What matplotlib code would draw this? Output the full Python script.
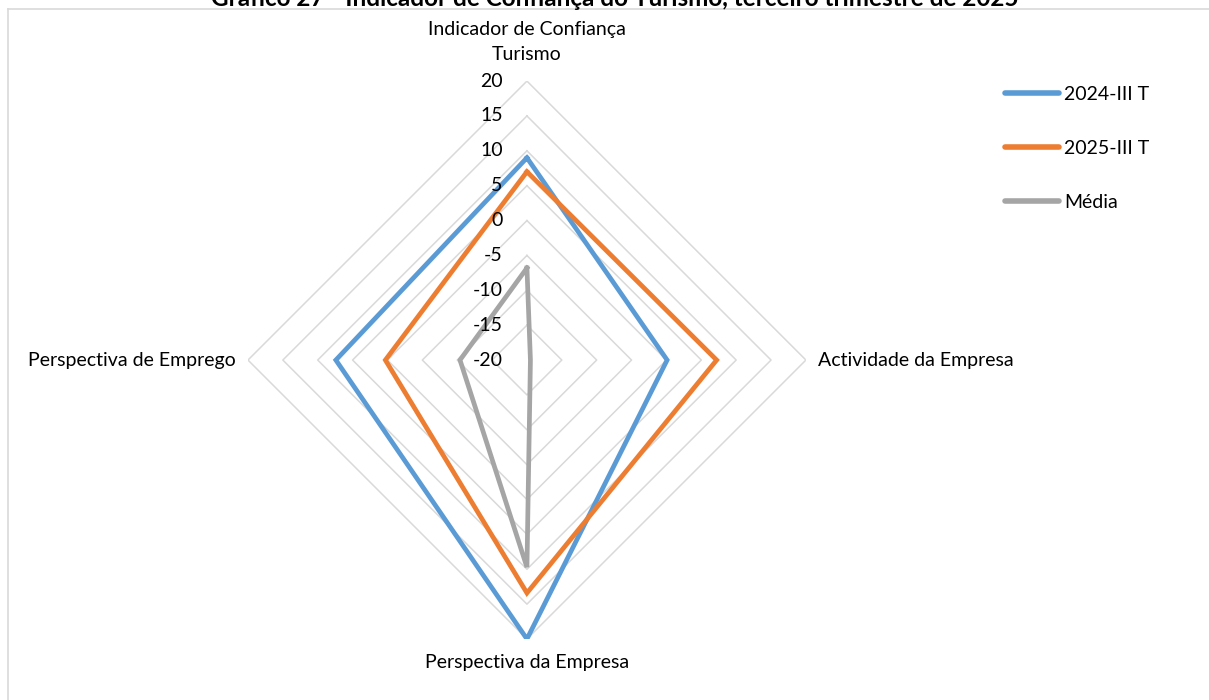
import numpy as np
import matplotlib.pyplot as plt
from matplotlib.lines import Line2D

plt.rcParams['font.family'] = ['Lato', 'DejaVu Sans']

# Data (clockwise from top)
categories = ['Indicador de Confiança\nTurismo', 'Actividade da Empresa',
              'Perspectiva da Empresa', 'Perspectiva de Emprego']
serie_2024 = [9.0, 0.1, 20.0, 7.4]
serie_2025 = [7.0, 7.2, 13.4, 0.3]
media = [-6.8, -19.5, 9.7, -10.4]
series_names = ['2024-III T', '2025-III T', 'Média']
levels = [-20, -15, -10, -5, 0, 5, 10, 15, 20]

title = 'Gráfico 27 - Indicador de Confiança do Turismo, terceiro trimestre de 2025'

mycolors = ['#5B9BD5', '#ED7D31', '#A5A5A5']
grid_color = '#D9D9D9'

fig = plt.figure(figsize=(12.09, 7.0), dpi=100)
ax = fig.add_axes([0.2051, 0.0871, 0.4615, 0.7971], projection='polar')
ax.set_theta_offset(np.pi / 2)
ax.set_theta_direction(-1)
ax.set_ylim(-20, 20)
ax.grid(False)
ax.spines['polar'].set_visible(False)
ax.set_xticks([])
ax.set_yticks([])
ax.patch.set_alpha(0)

angles = np.linspace(0, 2 * np.pi, len(categories), endpoint=False)
closed = np.append(angles, angles[0])

# diamond grid rings
for lv in levels:
    ax.plot(closed, [lv] * len(closed), color=grid_color, lw=1.1, zorder=1)

# series
for vals, name, col in zip([serie_2024, serie_2025, media], series_names, mycolors):
    ax.plot(closed, vals + vals[:1], color=col, lw=3.4, label=name,
            solid_joinstyle='miter', zorder=3)

# radial tick labels, left of the top axis
for lv in levels:
    ax.annotate(str(lv), xy=(0, lv), xytext=(-17.5, 0), textcoords='offset points',
                ha='right', va='center', fontsize=14, color='#000000', zorder=5)

# category labels
ax.annotate(categories[0], xy=(angles[0], 20), xytext=(0, 13), textcoords='offset points',
            ha='center', va='bottom', fontsize=14, linespacing=1.6)
ax.annotate(categories[1], xy=(angles[1], 20), xytext=(8.5, 0), textcoords='offset points',
            ha='left', va='center', fontsize=14)
ax.annotate(categories[2], xy=(angles[2], 20), xytext=(0, -11), textcoords='offset points',
            ha='center', va='top', fontsize=14)
ax.annotate(categories[3], xy=(angles[3], 20), xytext=(-8.5, 0), textcoords='offset points',
            ha='right', va='center', fontsize=14)

# legend
handles = [Line2D([0], [0], color=c, lw=4, solid_capstyle='round') for c in mycolors]
fig.legend(handles, series_names, loc='upper left', bbox_to_anchor=(0.8245, 0.888),
           frameon=False, fontsize=14, handlelength=2.8, handletextpad=0.25,
           labelspacing=1.9, borderaxespad=0)

# chart border (top and left visible)
fig.add_artist(Line2D([8 / 1209, 1], [1 - 9 / 700, 1 - 9 / 700], color=grid_color, lw=1.2))
fig.add_artist(Line2D([8 / 1209, 8 / 1209], [0, 1 - 9 / 700], color=grid_color, lw=1.2))

# title, partly cut off at the top as in the source
fig.text(615 / 1209, 1 - 6 / 700, title, ha='center', va='baseline',
         fontsize=17.5, fontweight='bold')

fig.savefig('out.png', dpi=100)
